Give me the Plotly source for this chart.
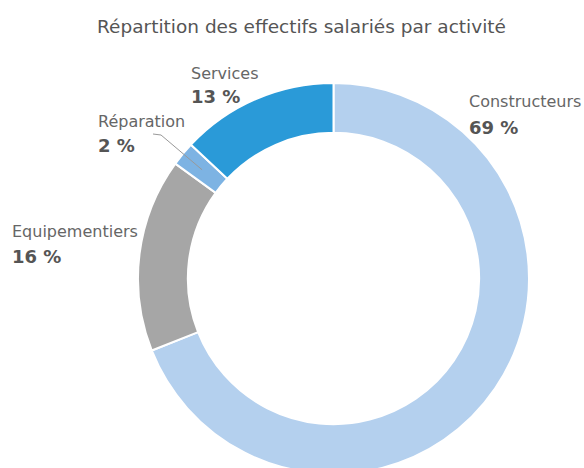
import math
import plotly.graph_objects as go

# ---- data ----
categories = ["Constructeurs", "Equipementiers", "Réparation", "Services"]
values = [69, 16, 2, 13]
pct_labels = ["69 %", "16 %", "2 %", "13 %"]
colors = ["#b4d0ee", "#a6a6a6", "#7db3e3", "#2a9ad8"]
title = "Répartition des effectifs salariés par activité"

# ---- layout geometry (pixels, from top-left) ----
W, H = 584, 500
cx, cy, R = 333.5, 278.5, 195.5
hole = 0.745
FONT = "DejaVu Sans"

def px(x):
    return x / W

def py(y):
    return 1 - y / H

fig = go.Figure()
fig.add_trace(go.Pie(
    labels=categories,
    values=values,
    hole=hole,
    sort=False,
    direction="clockwise",
    rotation=0,
    marker=dict(colors=colors, line=dict(color="white", width=2)),
    textinfo="none",
    hoverinfo="label+percent",
    showlegend=False,
    domain=dict(x=[px(cx - R), px(cx + R)], y=[py(cy + R), py(cy - R)]),
))

# label positions (left edge x, name line y, pct line y)
label_pos = {
    "Constructeurs": (467, 102, 127),
    "Equipementiers": (10, 232, 256),
    "Réparation": (96, 121, 145),
    "Services": (189, 73, 97),
}
ann = []
for cat, pct in zip(categories, pct_labels):
    x0, y1, y2 = label_pos[cat]
    ann.append(dict(x=px(x0), y=py(y1), xref="paper", yref="paper", text=cat,
                    showarrow=False, xanchor="left", yanchor="middle",
                    font=dict(family=FONT, size=16, color="#666666")))
    ann.append(dict(x=px(x0), y=py(y2), xref="paper", yref="paper", text="<b>" + pct + "</b>",
                    showarrow=False, xanchor="left", yanchor="middle",
                    font=dict(family=FONT, size=18, color="#555555")))

# leader line to the Réparation slice, end point computed from data
total = sum(values)
idx = categories.index("Réparation")
cum = sum(values[:idx]) + values[idx] / 2
ang = cum / total * 2 * math.pi
rmid = R * (1 + hole) / 2
ex, ey = cx + rmid * math.sin(ang), cy - rmid * math.cos(ang)
sx, sy = 153, 134
bx, by = 161, 135
path = "M {} {} L {} {} L {} {}".format(px(sx), py(sy), px(bx), py(by), px(ex), py(ey))
fig.add_shape(type="path", xref="paper", yref="paper", path=path,
              line=dict(color="#999999", width=1))

fig.update_layout(
    width=W, height=H,
    margin=dict(l=0, r=0, t=0, b=0),
    paper_bgcolor="white", plot_bgcolor="white",
    title=dict(text=title, x=px(301.5), xanchor="center", y=py(27), yanchor="middle",
               font=dict(family=FONT, size=18.5, color="#555555")),
    annotations=ann,
)

fig.write_html("out.html", config={"displayModeBar": False}, post_script=(
    "document.body.style.margin='0';"
    "document.body.style.overflow='hidden';"
    "document.documentElement.style.overflow='hidden';"
))
